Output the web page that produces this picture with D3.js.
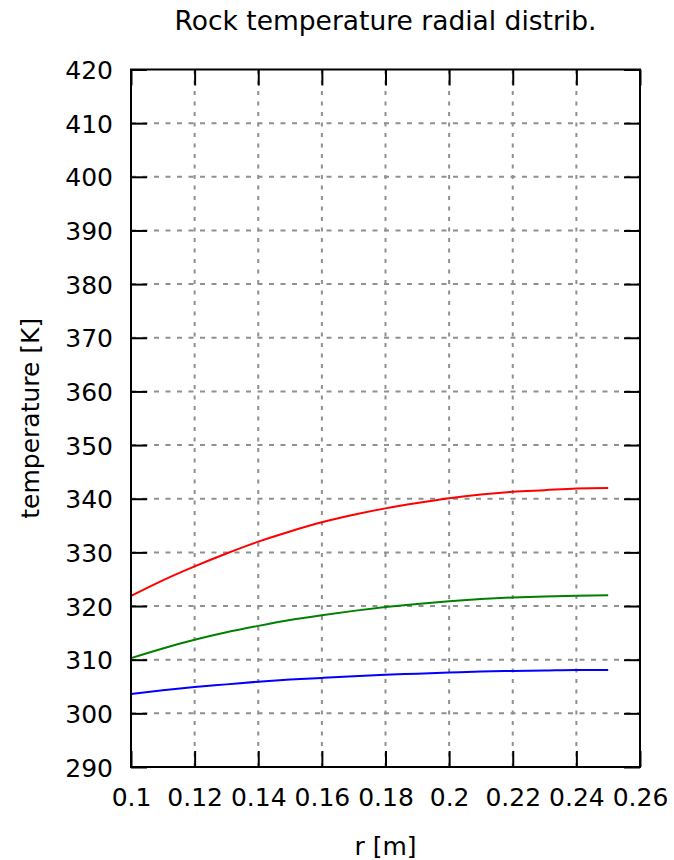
<!DOCTYPE html>
<html>
<head>
<meta charset="utf-8">
<script src="https://cdn.jsdelivr.net/npm/d3@7"></script>
<style>
  html, body { margin: 0; padding: 0; background: #fff; }
  svg { display: block; }
  text { font-family: "DejaVu Sans", sans-serif; fill: #000; }
</style>
</head>
<body>
<svg id="chart" width="674" height="860"></svg>
<script>
// ---- data ----
const radius = [0.10, 0.11, 0.12, 0.13, 0.14, 0.15, 0.16, 0.17, 0.18, 0.19, 0.20, 0.21, 0.22, 0.23, 0.24, 0.25];
const tempRed   = [321.9, 324.8, 327.4, 329.8, 332.0, 333.9, 335.6, 337.0, 338.2, 339.2, 340.1, 340.8, 341.3, 341.6, 341.9, 342.0];
const tempGreen = [310.3, 312.1, 313.7, 315.1, 316.3, 317.4, 318.3, 319.1, 319.8, 320.4, 320.9, 321.3, 321.6, 321.8, 321.9, 322.0];
const tempBlue  = [303.6, 304.3, 304.9, 305.4, 305.9, 306.3, 306.6, 306.9, 307.2, 307.4, 307.6, 307.8, 307.9, 308.0, 308.1, 308.1];
const xTicks = [0.10, 0.12, 0.14, 0.16, 0.18, 0.20, 0.22, 0.24, 0.26];
const xTickLabels = ["0.1", "0.12", "0.14", "0.16", "0.18", "0.2", "0.22", "0.24", "0.26"];
const yTicks = [290, 300, 310, 320, 330, 340, 350, 360, 370, 380, 390, 400, 410, 420];
const titleText = "Rock temperature radial distrib.";
const xLabelText = "r [m]";
const yLabelText = "temperature [K]";

const series = [
  { values: tempRed,   color: "#ff0000" },
  { values: tempGreen, color: "#008000" },
  { values: tempBlue,  color: "#0000ff" }
];

// ---- layout ----
const L = 131, R = 640, T = 69.5, B = 767;
const svg = d3.select("#chart");
const x = d3.scaleLinear().domain([0.10, 0.26]).range([L, R]);
const y = d3.scaleLinear().domain([290, 420]).range([B, T]);
const FS = 25;
const tickLen = 16;

// grid
const grid = svg.append("g").attr("stroke", "#909090").attr("stroke-width", 2);
xTicks.slice(1, -1).forEach(v => {
  grid.append("line").attr("x1", x(v)).attr("x2", x(v)).attr("y1", B).attr("y2", T)
    .attr("stroke-dasharray", "4,6.5");
});
yTicks.slice(1, -1).forEach(v => {
  grid.append("line").attr("x1", L).attr("x2", R).attr("y1", y(v)).attr("y2", y(v))
    .attr("stroke-dasharray", "5,6.5");
});

// axes via d3 axis (ticks inward)
const fmtX = (d) => xTickLabels[xTicks.findIndex(t => Math.abs(t - d) < 1e-9)];
const axB = svg.append("g").attr("transform", `translate(0,${B})`)
  .call(d3.axisBottom(x).tickValues(xTicks).tickFormat(fmtX).tickSizeInner(-tickLen).tickSizeOuter(0));
const axT = svg.append("g").attr("transform", `translate(0,${T})`)
  .call(d3.axisTop(x).tickValues(xTicks).tickFormat("").tickSizeInner(-tickLen).tickSizeOuter(0));
const axLft = svg.append("g").attr("transform", `translate(${L},0)`)
  .call(d3.axisLeft(y).tickValues(yTicks).tickFormat(d3.format("d")).tickSizeInner(-tickLen).tickSizeOuter(0).tickPadding(18));
const axRgt = svg.append("g").attr("transform", `translate(${R},0)`)
  .call(d3.axisRight(y).tickValues(yTicks).tickFormat("").tickSizeInner(-tickLen).tickSizeOuter(0));

[axB, axT, axLft, axRgt].forEach(a => {
  a.select(".domain").remove();
  a.selectAll(".tick line").attr("stroke", "#000").attr("stroke-width", 2);
  a.selectAll("text").attr("font-family", "DejaVu Sans, sans-serif").attr("font-size", FS).attr("fill", "#000");
});
axB.selectAll("text").attr("dy", null).attr("y", 39);
axLft.selectAll("text").attr("dy", "0.36em");

// curves
const line = d3.line().x((d, i) => x(radius[i])).y(d => y(d)).curve(d3.curveMonotoneX);
series.forEach(s => {
  svg.append("path").datum(s.values).attr("d", line)
    .attr("fill", "none").attr("stroke", s.color).attr("stroke-width", 2);
});

// border
svg.append("rect").attr("x", L).attr("y", T).attr("width", R - L).attr("height", B - T)
  .attr("fill", "none").attr("stroke", "#000").attr("stroke-width", 2);

// titles
svg.append("text").attr("x", (L + R) / 2).attr("y", 30).attr("text-anchor", "middle")
  .attr("font-size", 26.5).text(titleText);
svg.append("text").attr("x", (L + R) / 2).attr("y", 855).attr("text-anchor", "middle")
  .attr("font-size", FS).text(xLabelText);
svg.append("text").attr("transform", `translate(39,${(T + B) / 2}) rotate(-90)`).attr("text-anchor", "middle")
  .attr("font-size", FS).text(yLabelText);
</script>
</body>
</html>
